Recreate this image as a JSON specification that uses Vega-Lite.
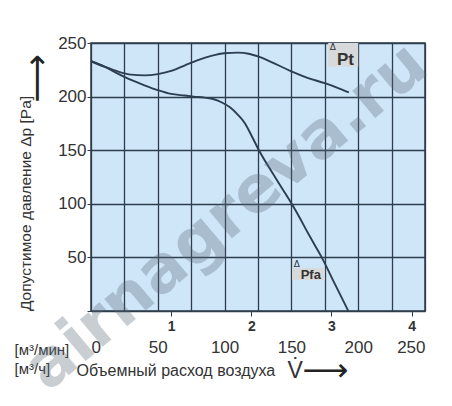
{
  "$schema": "https://vega.github.io/schema/vega-lite/v6.json",
  "width": 334,
  "height": 268,
  "autosize": "none",
  "padding": {"left": 91, "top": 43, "right": 27, "bottom": 95},
  "background": "white",
  "config": {
    "font": "Liberation Sans",
    "view": {"fill": "#cfe6f8", "stroke": "#2e3d4c", "strokeWidth": 1.5},
    "axis": {"labelColor": "#333333", "titleColor": "#333333", "labelFont": "Liberation Sans", "titleFont": "Liberation Sans", "titleFontWeight": "normal"},
    "axisY": {"values": [0,25,50,75,100,125,150,175,200,225,250], "grid": true, "gridColor": "#2e3d4c", "gridWidth": 1.3, "gridOpacity": 1,
      "labelExpr": "datum.value % 50 == 0 && datum.value > 0 ? datum.label : ''", "labelFontSize": 17, "labelPadding": 1, "tickSize": 4, "tickColor": "#2e3d4c", "domain": false,
      "titleFontSize": 15.5, "titleX": -66, "titleY": 160, "titleAngle": -90, "titleAlign": "center", "titleBaseline": "middle"}
  },
  "datasets": {
    "curves": [
      {"series": "Pt", "flow": 0, "pressure": 233},
      {"series": "Pt", "flow": 10, "pressure": 228},
      {"series": "Pt", "flow": 20, "pressure": 223.5},
      {"series": "Pt", "flow": 30, "pressure": 220.5},
      {"series": "Pt", "flow": 40, "pressure": 219.8},
      {"series": "Pt", "flow": 50, "pressure": 221},
      {"series": "Pt", "flow": 60, "pressure": 224},
      {"series": "Pt", "flow": 70, "pressure": 229},
      {"series": "Pt", "flow": 80, "pressure": 234},
      {"series": "Pt", "flow": 90, "pressure": 238},
      {"series": "Pt", "flow": 100, "pressure": 240.5},
      {"series": "Pt", "flow": 110, "pressure": 241},
      {"series": "Pt", "flow": 118, "pressure": 240},
      {"series": "Pt", "flow": 126, "pressure": 237},
      {"series": "Pt", "flow": 138, "pressure": 230.5},
      {"series": "Pt", "flow": 150, "pressure": 223.5},
      {"series": "Pt", "flow": 162, "pressure": 217.5},
      {"series": "Pt", "flow": 175, "pressure": 212.5},
      {"series": "Pt", "flow": 185, "pressure": 208},
      {"series": "Pt", "flow": 193, "pressure": 204},
      {"series": "Pfa", "flow": 0, "pressure": 233},
      {"series": "Pfa", "flow": 10, "pressure": 228},
      {"series": "Pfa", "flow": 20, "pressure": 221.5},
      {"series": "Pfa", "flow": 30, "pressure": 215.5},
      {"series": "Pfa", "flow": 40, "pressure": 210.5},
      {"series": "Pfa", "flow": 50, "pressure": 206},
      {"series": "Pfa", "flow": 60, "pressure": 202.5},
      {"series": "Pfa", "flow": 70, "pressure": 201},
      {"series": "Pfa", "flow": 77, "pressure": 200},
      {"series": "Pfa", "flow": 85, "pressure": 199},
      {"series": "Pfa", "flow": 92, "pressure": 197.5},
      {"series": "Pfa", "flow": 98, "pressure": 194.5},
      {"series": "Pfa", "flow": 104, "pressure": 190},
      {"series": "Pfa", "flow": 110, "pressure": 183},
      {"series": "Pfa", "flow": 115.3, "pressure": 175},
      {"series": "Pfa", "flow": 120, "pressure": 164},
      {"series": "Pfa", "flow": 125.7, "pressure": 150},
      {"series": "Pfa", "flow": 131.5, "pressure": 137.5},
      {"series": "Pfa", "flow": 137.7, "pressure": 125},
      {"series": "Pfa", "flow": 144, "pressure": 112.5},
      {"series": "Pfa", "flow": 150.2, "pressure": 100},
      {"series": "Pfa", "flow": 156, "pressure": 87.5},
      {"series": "Pfa", "flow": 161.4, "pressure": 75},
      {"series": "Pfa", "flow": 167, "pressure": 62.5},
      {"series": "Pfa", "flow": 172.7, "pressure": 50},
      {"series": "Pfa", "flow": 182.6, "pressure": 25},
      {"series": "Pfa", "flow": 192.6, "pressure": 0}
    ],
    "boxes": [
      {"series": "Pt", "x0": 177.5, "x1": 200, "y0": 228, "y1": 250},
      {"series": "Pfa", "x0": 150.5, "x1": 175, "y0": 29, "y1": 40}
    ],
    "names": [
      {"series": "Pt", "label": "Pt", "fx": 190.5, "fy": 234},
      {"series": "Pfa", "label": "Pfa", "fx": 164.5, "fy": 33.5}
    ],
    "deltas": [
      {"series": "Pt", "label": "Δ", "fx": 181, "fy": 246},
      {"series": "Pfa", "label": "Δ", "fx": 154, "fy": 43.5}
    ],
    "arrow": [{"label": "⟶", "fx": -39.5, "fy": 217}],
    "watermark": [{"label": "airnagreva.ru", "fx": 101.5, "fy": 88}]
  },
  "layer": [
    {
      "data": {"name": "arrow"},
      "mark": {"type": "text", "font": "DejaVu Sans", "fontSize": 34, "angle": 270, "color": "#222222", "align": "center", "baseline": "middle"},
      "encoding": {
        "x": {"field": "fx", "type": "quantitative", "scale": {"domain": [0, 250], "nice": false},
          "axis": {"orient": "top", "values": [0,25,50,75,100,125,150,175,200,225,250], "grid": true, "gridColor": "#2e3d4c", "gridWidth": 1.3, "gridOpacity": 1, "labels": false, "ticks": false, "domain": false, "title": null}},
        "y": {"field": "fy", "type": "quantitative", "scale": {"domain": [0, 250], "nice": false}, "axis": {"title": "Допустимое давление  Δp [Pa]"}},
        "text": {"field": "label"}
      }
    },
    {
      "data": {"name": "boxes"},
      "mark": {"type": "rect", "color": "#d8d9da"},
      "encoding": {
        "x": {"field": "x0", "type": "quantitative", "scale": {"domain": [0, 250], "nice": false},
          "axis": {"orient": "bottom", "values": [0,50,100,150,200,250], "grid": false, "labelFontSize": 17, "ticks": false, "labelPadding": 28, "domain": false,
            "title": "[м³/мин]", "titleFontSize": 15, "titleX": -77, "titleY": 38, "titleAlign": "left", "titleBaseline": "middle"}},
        "x2": {"field": "x1"},
        "y": {"field": "y0", "type": "quantitative", "scale": {"domain": [0, 250], "nice": false}, "axis": {"title": "Допустимое давление  Δp [Pa]"}},
        "y2": {"field": "y1"}
      }
    },
    {
      "data": {"name": "curves"},
      "mark": {"type": "line", "color": "#2c3e4f", "strokeWidth": 1.9, "interpolate": "monotone"},
      "encoding": {
        "x": {"field": "flow", "type": "quantitative", "scale": {"domain": [0, 250], "nice": false},
          "axis": {"orient": "bottom", "values": [60, 120, 180, 240], "labelExpr": "format(datum.value / 60, 'd')", "labelFontWeight": "bold", "labelFontSize": 14, "tickSize": 5, "tickColor": "#2e3d4c", "labelPadding": 3, "grid": false, "domain": false,
            "title": "Объемный расход воздуха", "titleFontSize": 16, "titleX": -15, "titleY": 59, "titleAlign": "left", "titleBaseline": "middle"}},
        "y": {"field": "pressure", "type": "quantitative", "scale": {"domain": [0, 250], "nice": false}, "axis": {"title": "Допустимое давление  Δp [Pa]"}},
        "detail": {"field": "series"}
      }
    },
    {
      "data": {"name": "names"},
      "mark": {"type": "text", "font": "Liberation Sans", "fontWeight": "bold", "color": "#333333", "align": "center", "baseline": "middle"},
      "encoding": {
        "x": {"field": "fx", "type": "quantitative", "scale": {"domain": [0, 250], "nice": false},
          "axis": {"orient": "bottom", "labels": false, "ticks": false, "grid": false, "domain": false,
            "title": "[м³/ч]", "titleFontSize": 15, "titleX": -77, "titleY": 57, "titleAlign": "left", "titleBaseline": "middle"}},
        "y": {"field": "fy", "type": "quantitative", "scale": {"domain": [0, 250], "nice": false}, "axis": {"title": "Допустимое давление  Δp [Pa]"}},
        "text": {"field": "label"},
        "size": {"field": "series", "type": "nominal", "scale": {"domain": ["Pt", "Pfa"], "range": [17, 13]}, "legend": null}
      }
    },
    {
      "data": {"name": "deltas"},
      "mark": {"type": "text", "font": "DejaVu Sans", "fontSize": 9, "color": "#333333", "align": "center", "baseline": "middle"},
      "encoding": {
        "x": {"field": "fx", "type": "quantitative", "scale": {"domain": [0, 250], "nice": false},
          "axis": {"orient": "bottom", "labels": false, "ticks": false, "grid": false, "domain": false,
            "title": "V̇", "titleFontSize": 23, "titleX": 196, "titleY": 59, "titleAlign": "left", "titleBaseline": "middle"}},
        "y": {"field": "fy", "type": "quantitative", "scale": {"domain": [0, 250], "nice": false}, "axis": {"title": "Допустимое давление  Δp [Pa]"}},
        "text": {"field": "label"}
      }
    },
    {
      "data": {"name": "watermark"},
      "mark": {"type": "text", "font": "DejaVu Sans", "fontWeight": "bold", "fontSize": 65, "angle": 320, "color": "#5a6a78", "opacity": 0.32, "align": "center", "baseline": "middle"},
      "encoding": {
        "x": {"field": "fx", "type": "quantitative", "scale": {"domain": [0, 250], "nice": false},
          "axis": {"orient": "bottom", "labels": false, "ticks": false, "grid": false, "domain": false,
            "title": "⟶", "titleFont": "DejaVu Sans", "titleFontSize": 32, "titleColor": "#222222", "titleX": 211, "titleY": 59, "titleAlign": "left", "titleBaseline": "middle"}},
        "y": {"field": "fy", "type": "quantitative", "scale": {"domain": [0, 250], "nice": false}, "axis": {"title": "Допустимое давление  Δp [Pa]"}},
        "text": {"field": "label"}
      }
    }
  ],
  "resolve": {"axis": {"x": "independent"}}
}
